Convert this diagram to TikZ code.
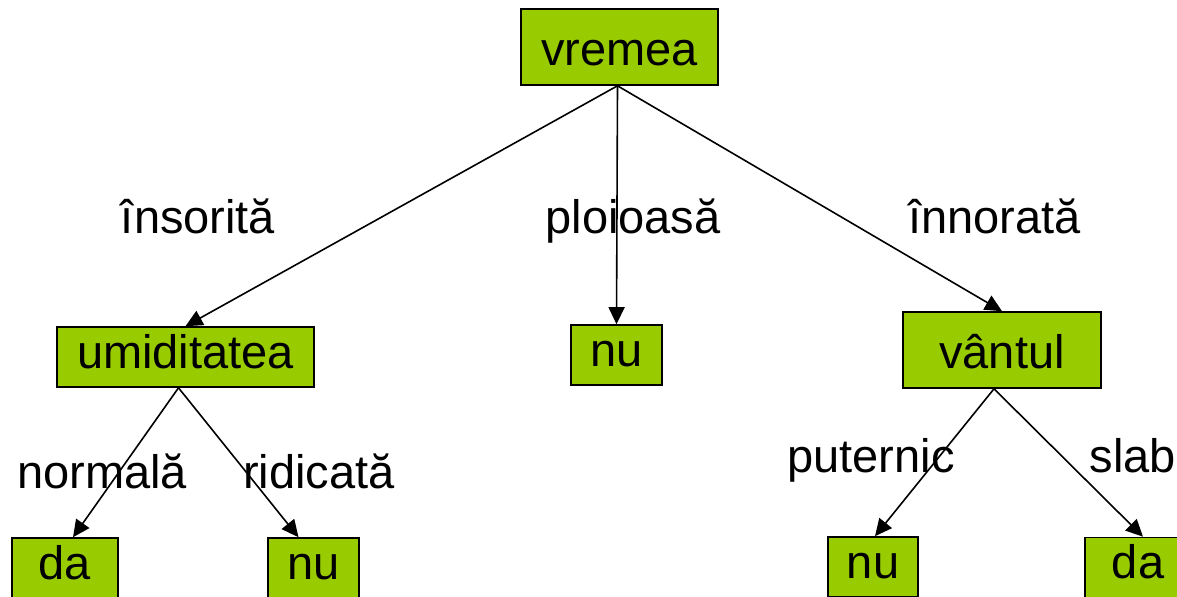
\documentclass[tikz,border=0pt]{standalone}
\usepackage{fontspec}
\setmainfont{Liberation Sans}
\usetikzlibrary{arrows.meta}
\definecolor{leafgreen}{HTML}{99CC00}
\tikzset{
    box/.style={draw=black, line width=0.8pt, fill=leafgreen, inner sep=0pt,
        minimum height=30pt, text height=17pt, text depth=6pt},
    bigbox/.style={box, minimum height=38pt, text height=18pt, text depth=0pt},
    branch/.style={line width=0.8pt, -{Triangle[length=8.5pt,width=8pt]}},
    lbl/.style={anchor=base, inner sep=0pt}
}
\begin{document}
\begin{tikzpicture}[x=0.5pt, y=-0.5pt, every node/.style={font=\fontsize{23.5}{28}\selectfont}]
        \useasboundingbox (0,0) rectangle (1177,596);
        \clip (0,0) rectangle (1177,596);
        \node[bigbox, minimum width=98.5pt] (vremea) at (619.5,47) {vremea};
        \node[box, minimum width=128.5pt] (umid) at (185.5,357) {umiditatea};
        \node[box, minimum width=45.5pt] (ploinu) at (616.5,355) {nu};
        \node[bigbox, minimum width=99pt] (vant) at (1002,350) {vântul};
        \node[box, minimum width=53pt] (umidda) at (65,568) {da};
        \node[box, minimum width=45.5pt] (umidnu) at (313.5,568) {nu};
        \node[box, minimum width=45pt] (vantnu) at (873,567) {nu};
        \node[box, minimum width=53pt] (vantda) at (1138,567.5) {da};
        \draw[branch] ([xshift=-1pt]vremea.south) -- (umid.north);
        \draw[branch] ([xshift=-1pt]vremea.south) -- (ploinu.north);
        \draw[branch] ([xshift=-1pt]vremea.south) -- (vant.north);
        \draw[branch] ([xshift=-3.5pt]umid.south) -- ([xshift=4pt]umidda.north);
        \draw[branch] ([xshift=-3.5pt]umid.south) -- ([xshift=-7.5pt]umidnu.north);
        \draw[branch] ([xshift=-4pt]vant.south) -- ([xshift=1pt]vantnu.north);
        \draw[branch] ([xshift=-4pt]vant.south) -- ([xshift=2.5pt]vantda.north);
        \node[lbl] (insorita) at (198,233) {însorită};
        \node[lbl] (ploioasa) at (633,233) {ploioasă};
        \node[lbl] (innorata) at (994.5,233) {înnorată};
        \node[lbl] (normala) at (102,488) {normală};
        \node[lbl] (ridicata) at (319,488) {ridicată};
        \node[lbl] (puternic) at (871,472) {puternic};
        \node[lbl] (slab) at (1133,472) {slab};
    \end{tikzpicture}
\end{document}
